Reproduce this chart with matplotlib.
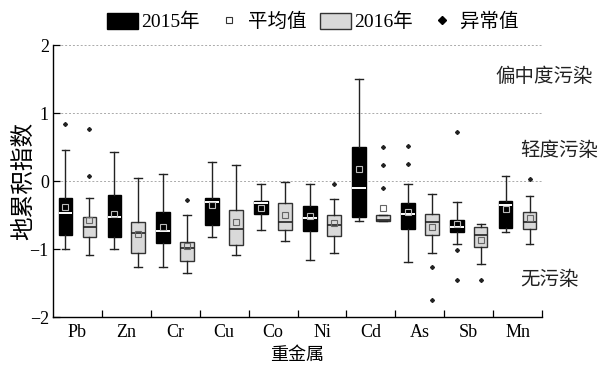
import matplotlib
matplotlib.use("Agg")
from matplotlib import pyplot as plt
from matplotlib.patches import Patch
from matplotlib.lines import Line2D
from matplotlib.transforms import blended_transform_factory
import numpy as np

plt.rcParams['font.family'] = ['Liberation Serif', 'Noto Sans CJK SC']
plt.rcParams['axes.unicode_minus'] = True

metals = ['Pb', 'Zn', 'Cr', 'Cu', 'Co', 'Ni', 'Cd', 'As', 'Sb', 'Mn']

# geo-accumulation index summaries per metal, 2015
lo_2015 = [-1.00, -1.00, -1.26, -0.83, -0.72, -1.16, -0.59, -1.19, -0.92, -0.75]
q1_2015 = [-0.79, -0.82, -0.91, -0.64, -0.49, -0.74, -0.53, -0.70, -0.75, -0.69]
med_2015 = [-0.47, -0.53, -0.73, -0.31, -0.33, -0.55, -0.11, -0.48, -0.68, -0.36]
q3_2015 = [-0.25, -0.20, -0.45, -0.25, -0.30, -0.37, 0.50, -0.33, -0.57, -0.30]
hi_2015 = [0.46, 0.42, 0.10, 0.28, -0.04, -0.05, 1.50, -0.04, -0.31, 0.08]
mean_2015 = [-0.38, -0.49, -0.68, -0.35, -0.39, -0.52, 0.17, -0.45, -0.63, -0.41]
out_2015 = [[0.84], [], [], [], [], [], [], [0.52, 0.25], [0.72, -1.01, -1.46], []]

# same summaries, 2016
lo_2016 = [-1.09, -1.26, -1.36, -1.09, -0.88, -1.06, -0.59, -1.06, -1.22, -0.92]
q1_2016 = [-0.83, -1.06, -1.17, -0.94, -0.72, -0.81, -0.59, -0.79, -0.97, -0.70]
med_2016 = [-0.68, -0.76, -0.98, -0.71, -0.61, -0.65, -0.57, -0.61, -0.79, -0.60]
q3_2016 = [-0.53, -0.61, -0.90, -0.42, -0.33, -0.50, -0.50, -0.48, -0.68, -0.46]
hi_2016 = [-0.25, 0.04, -0.50, 0.24, -0.02, -0.27, -0.50, -0.19, -0.63, -0.22]
mean_2016 = [-0.58, -0.78, -0.96, -0.61, -0.50, -0.62, -0.39, -0.68, -0.87, -0.54]
out_2016 = [[0.77, 0.08], [], [-0.28], [], [], [-0.04], [0.50, 0.23, -0.11],
            [-1.26, -1.75], [-1.46], [0.03]]

# class boundary lines and class names (y of the name, left edge in figure px)
bounds = [0, 1, 2]
classes = ['偏中度污染', '轻度污染', '无污染']
class_y = [1.53, 0.45, -1.45]
class_px = [495, 520, 520]


def make_stats(lo, q1, med, q3, hi, mean, out):
    stats = []
    for i in range(len(lo)):
        stats.append(dict(whislo=lo[i], q1=q1[i], med=med[i], q3=q3[i],
                          whishi=hi[i], mean=mean[i], fliers=np.array(out[i])))
    return stats


fig = plt.figure(figsize=(6.0, 3.69), dpi=100)
ax = fig.add_axes([53 / 600, 1 - 317 / 369, 489 / 600, 272 / 369])

x = np.arange(len(metals))
off = 0.245
w = 0.28

ax.bxp(make_stats(lo_2015, q1_2015, med_2015, q3_2015, hi_2015, mean_2015, out_2015),
       positions=x - off, widths=w, showmeans=True, patch_artist=True,
       boxprops=dict(facecolor='black', edgecolor='black', linewidth=1.0),
       medianprops=dict(color='white', linewidth=1.4),
       whiskerprops=dict(color='#222222', linewidth=1.0),
       capprops=dict(color='#222222', linewidth=1.0), capwidths=0.16,
       meanprops=dict(marker='s', markersize=4.5, markerfacecolor='none',
                      markeredgecolor='#bbbbbb', markeredgewidth=0.8),
       flierprops=dict(marker='D', markersize=2.0, markerfacecolor='#222222',
                       markeredgecolor='#222222'))

ax.bxp(make_stats(lo_2016, q1_2016, med_2016, q3_2016, hi_2016, mean_2016, out_2016),
       positions=x + off, widths=w, showmeans=True, patch_artist=True,
       boxprops=dict(facecolor='#d9d9d9', edgecolor='#333333', linewidth=1.0),
       medianprops=dict(color='#222222', linewidth=1.2),
       whiskerprops=dict(color='#222222', linewidth=1.0),
       capprops=dict(color='#222222', linewidth=1.0), capwidths=0.16,
       meanprops=dict(marker='s', markersize=4.5, markerfacecolor='none',
                      markeredgecolor='#666666', markeredgewidth=0.8),
       flierprops=dict(marker='D', markersize=2.0, markerfacecolor='#222222',
                       markeredgecolor='#222222'))

for y in bounds:
    ax.axhline(y, color='#aaaaaa', linestyle=(0, (2, 2)), linewidth=0.7, zorder=0)

trans = blended_transform_factory(fig.transFigure, ax.transData)
for name, ty, px in zip(classes, class_y, class_px):
    ax.text(px / 600, ty, name, transform=trans, fontsize=14,
            va='center', ha='left', color='#222222', clip_on=False)

ax.set_xlim(-0.5, len(metals) - 0.5)
ax.set_ylim(-2, 2)
ax.set_yticks([-2, -1, 0, 1, 2])
ax.set_xticks(x)
ax.set_xticklabels(metals)
ax.set_xticks(np.arange(len(metals)) + 0.5, minor=True)
ax.tick_params(axis='x', which='major', length=0, labelsize=13, pad=5)
ax.tick_params(axis='x', which='minor', direction='in', length=5, width=0.9)
ax.tick_params(axis='y', direction='in', length=5, width=0.9, labelsize=13, pad=3)
for s in ['top', 'right']:
    ax.spines[s].set_visible(False)
for s in ['left', 'bottom']:
    ax.spines[s].set_linewidth(1.0)
ax.set_xlabel('重金属', fontsize=13, labelpad=4)
ax.set_ylabel('地累积指数', fontsize=17)
ax.yaxis.set_label_coords(-0.037, 0.5)

handles = [Patch(facecolor='black', edgecolor='black'),
           Line2D([], [], linestyle='none', marker='s', markersize=4.5,
                  markerfacecolor='none', markeredgecolor='#333333', markeredgewidth=0.8),
           Patch(facecolor='#d9d9d9', edgecolor='#333333'),
           Line2D([], [], linestyle='none', marker='D', markersize=4,
                  markerfacecolor='black', markeredgecolor='black')]
fig.legend(handles, ['2015年', '平均值', '2016年', '异常值'], loc='center',
           bbox_to_anchor=(313 / 600, 1 - 22 / 369), ncol=4, frameon=False,
           fontsize=14, handlelength=1.6, handleheight=0.9, handletextpad=0.15,
           columnspacing=0.7, borderaxespad=0)

fig.savefig('out.png', dpi=100)
